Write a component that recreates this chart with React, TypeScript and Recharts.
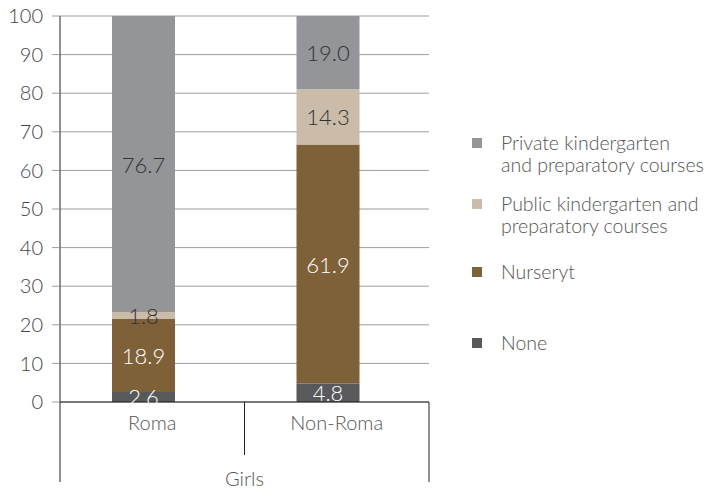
import React from "react";
import {
  BarChart,
  Bar,
  XAxis,
  YAxis,
  CartesianGrid,
  Legend,
  LabelList,
  Rectangle,
} from "recharts";

// categories and group
const categories = ["Roma", "Non-Roma"];
const groupLabel = "Girls";

// series values, bottom of the stack first
const noneValues = [2.6, 4.8];
const nurseryValues = [18.9, 61.9];
const publicValues = [1.8, 14.3];
const privateValues = [76.7, 19.0];

const yTicks = [0, 10, 20, 30, 40, 50, 60, 70, 80, 90, 100];

const series = [
  { key: "none", lines: ["None"], values: noneValues },
  { key: "nursery", lines: ["Nurseryt"], values: nurseryValues },
  { key: "public", lines: ["Public kindergarten and", "preparatory courses"], values: publicValues },
  { key: "private", lines: ["Private kindergarten", "and preparatory courses"], values: privateValues },
];

const COLORS: Record<string, string> = {
  none: "#58595b",
  nursery: "#7f6139",
  public: "#cbbcaa",
  private: "#939598",
};
const LABEL_COLORS: Record<string, string> = {
  none: "#ffffff",
  nursery: "#ffffff",
  public: "#333333",
  private: "#333333",
};

// legend layout (top-to-bottom order, first-line centre y)
const LEGEND_ORDER = ["private", "public", "nursery", "none"];
const LEGEND_Y = [143, 204, 272, 343];

const FONT = "Lato, 'Open Sans', sans-serif";
const BAR_SHIFT = -9;

const data = categories.map((name, i) => {
  const row: Record<string, string | number> = { name };
  series.forEach((s) => {
    row[s.key] = s.values[i];
  });
  return row;
});

const ShiftedBar = (props: any) => (
  <Rectangle {...props} x={props.x + BAR_SHIFT} stroke="none" />
);

const makeLabel = (key: string) => (props: any) => {
  const { x, y, width, height, value } = props;
  if (value == null) return null;
  return (
    <text
      x={Number(x) + Number(width) / 2 + BAR_SHIFT}
      y={Number(y) + Number(height) / 2}
      textAnchor="middle"
      dominantBaseline="central"
      fontFamily={FONT}
      fontWeight={300}
      fontSize={22}
      fill={LABEL_COLORS[key]}
    >
      {Number(value).toFixed(1)}
    </text>
  );
};

const CategoryTick = (props: any) => {
  const { x, y, payload, index } = props;
  const half = payload?.offset || 92.25;
  const last = index === categories.length - 1;
  return (
    <g>
      <text
        x={x}
        y={y + 28}
        textAnchor="middle"
        fontFamily={FONT}
        fontWeight={300}
        fontSize={20}
        fill="#555"
      >
        {payload.value}
      </text>
      {index === 0 && (
        <>
          <line x1={x - half} y1={y} x2={x - half} y2={y + 80} stroke="#222" />
          <text
            x={x + half}
            y={y + 84}
            textAnchor="middle"
            fontFamily={FONT}
            fontWeight={300}
            fontSize={20}
            fill="#555"
          >
            {groupLabel}
          </text>
        </>
      )}
      <line
        x1={x + half}
        y1={y}
        x2={x + half}
        y2={last ? y + 80 : y + 53}
        stroke="#222"
      />
    </g>
  );
};

const LegendContent = () => (
  <div style={{ position: "relative", width: 705, height: 0 }}>
    {LEGEND_ORDER.map((key, i) => {
      const s = series.find((d) => d.key === key)!;
      const top = LEGEND_Y[i];
      return (
        <div key={key}>
          <div
            style={{
              position: "absolute",
              left: 472,
              top: top - 5,
              width: 10,
              height: 10,
              background: COLORS[key],
            }}
          />
          {s.lines.map((line, j) => (
            <div
              key={j}
              style={{
                position: "absolute",
                left: 501,
                top: top - 12 + j * 22,
                lineHeight: "24px",
                fontSize: 19.5,
                fontFamily: FONT,
                fontWeight: 300,
                color: "#555",
                whiteSpace: "nowrap",
              }}
            >
              {line}
            </div>
          ))}
        </div>
      );
    })}
  </div>
);

export default function App() {
  return (
    <div style={{ position: "absolute", left: 0, top: 0, background: "#fff" }}>
      <BarChart
        width={705}
        height={489}
        data={data}
        margin={{ top: 16, right: 276, bottom: 0, left: 0 }}
        barSize={63}
      >
        <CartesianGrid vertical={false} stroke="#9d9d9d" />
        <XAxis
          dataKey="name"
          height={87}
          axisLine={{ stroke: "#222" }}
          tickLine={false}
          tickSize={0}
          tickMargin={0}
          tick={<CategoryTick />}
          interval={0}
        />
        <YAxis
          width={60}
          domain={[0, 100]}
          ticks={yTicks}
          axisLine={{ stroke: "#222" }}
          tickLine={{ stroke: "#9d9d9d" }}
          tickSize={8}
          tickMargin={9}
          tick={{ fontSize: 20, fontFamily: FONT, fontWeight: 300, fill: "#444" }}
          interval={0}
        />
        <Legend
          layout="vertical"
          align="center"
          verticalAlign="middle"
          wrapperStyle={{ left: 0, top: 0, width: 705, height: 0 }}
          content={<LegendContent />}
        />
        {series.map((s) => (
          <Bar
            key={s.key}
            dataKey={s.key}
            stackId="a"
            fill={COLORS[s.key]}
            shape={ShiftedBar}
            isAnimationActive={false}
          >
            <LabelList dataKey={s.key} content={makeLabel(s.key)} />
          </Bar>
        ))}
      </BarChart>
    </div>
  );
}
